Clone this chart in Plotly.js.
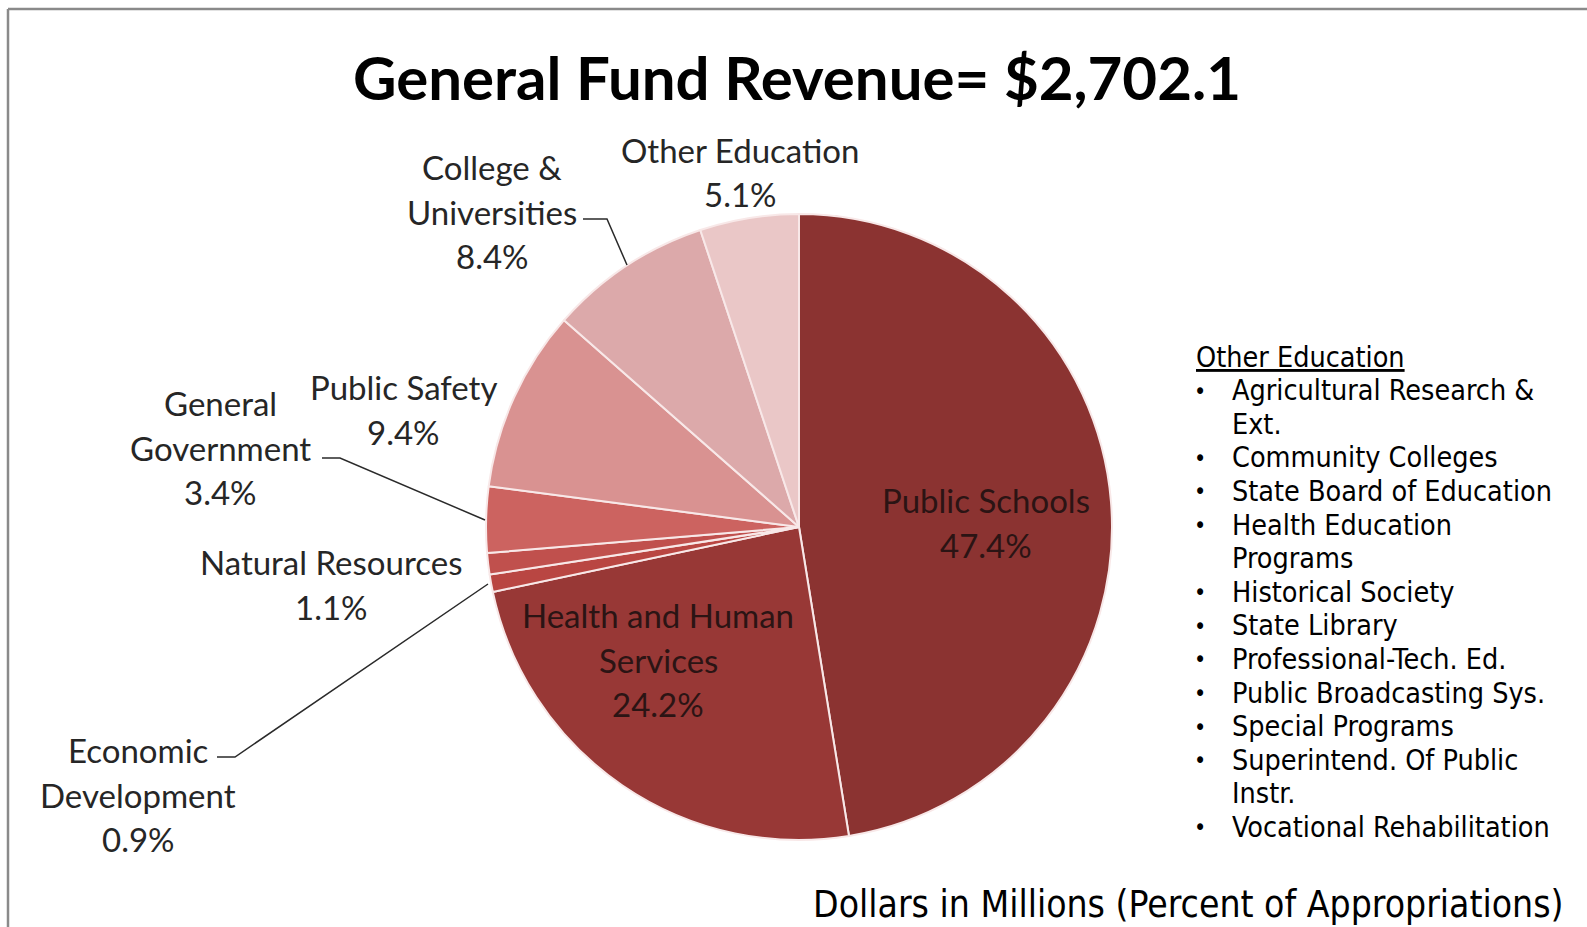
<!DOCTYPE html>
<html>
<head>
<meta charset="utf-8">
<script src="https://cdn.plot.ly/plotly-3.0.1.min.js"></script>
<style>html,body{margin:0;padding:0;background:#fff;}#chart{width:1587px;height:927px;}</style>
</head>
<body>
<div id="chart"></div>
<script>
// ---- data ----
const categories = ['Public Schools','Health and Human Services','Economic Development','Natural Resources','General Government','Public Safety','College & Universities','Other Education'];
const values = [47.4, 24.2, 0.9, 1.1, 3.4, 9.4, 8.4, 5.1];
const labelLines = [
  ['Public Schools'],
  ['Health and Human','Services'],
  ['Economic','Development'],
  ['Natural Resources'],
  ['General','Government'],
  ['Public Safety'],
  ['College &','Universities'],
  ['Other Education']
];
const listHeader = 'Other Education';
const listItems = [
  ['Agricultural Research &','Ext.'],
  ['Community Colleges'],
  ['State Board of Education'],
  ['Health Education','Programs'],
  ['Historical Society'],
  ['State Library'],
  ['Professional-Tech. Ed.'],
  ['Public Broadcasting Sys.'],
  ['Special Programs'],
  ['Superintend. Of Public','Instr.'],
  ['Vocational Rehabilitation']
];
const titleText = 'General Fund Revenue= $2,702.1';
const captionText = 'Dollars in Millions (Percent of Appropriations)';

// ---- styles / layout ----
const colors = ['#8B3331','#983836','#B94642','#C0504D','#CC6360','#D99291','#DCA9AA','#EAC7C7'];
const W = 1587, H = 927;
const px = x => x / W;
const py = y => 1 - y / H;
const cx = 799, cy = 527, R = 313;

// label block anchor (pixel centers of first line), line gap
const labelPos = [
  {x:986, y:500, c:'#2b1414'},
  {x:658, y:615, c:'#2b1414'},
  {x:138, y:750, c:'#262626'},
  {x:331, y:562, c:'#262626'},
  {x:220, y:403, c:'#262626'},
  {x:403, y:387, c:'#262626'},
  {x:492, y:167, c:'#262626'},
  {x:740, y:150, c:'#262626'}
];
const lineGap = 44.5;
const labelFont = 'Lato, "Open Sans", sans-serif';
const listFont = '"DejaVu Sans Condensed", "DejaVu Sans", sans-serif';

const annotations = [];
categories.forEach((cat, i) => {
  const lines = labelLines[i].concat([values[i].toFixed(1) + '%']);
  lines.forEach((t, j) => {
    annotations.push({
      xref:'paper', yref:'paper', x:px(labelPos[i].x), y:py(labelPos[i].y + j*lineGap),
      xanchor:'center', yanchor:'middle', showarrow:false, text:t,
      font:{family:labelFont, size:33, color:labelPos[i].c}
    });
  });
});

// list on the right
const listX0 = 1194, bulletX = 1200, textX = 1230, listY0 = 357, listGap = 33.6;
annotations.push({
  xref:'paper', yref:'paper', x:px(listX0), y:py(listY0), xanchor:'left', yanchor:'middle',
  showarrow:false, text:'<u>' + listHeader + '</u>', font:{family:listFont, size:28.5, color:'#000'}
});
let row = 1;
listItems.forEach(item => {
  annotations.push({
    xref:'paper', yref:'paper', x:px(bulletX), y:py(listY0 + row*listGap), xanchor:'center', yanchor:'middle',
    showarrow:false, text:'•', font:{family:listFont, size:23, color:'#000'}
  });
  item.forEach(t => {
    annotations.push({
      xref:'paper', yref:'paper', x:px(textX), y:py(listY0 + row*listGap), xanchor:'left', yanchor:'middle',
      showarrow:false, text:t, font:{family:listFont, size:28.5, color:'#000'}
    });
    row++;
  });
});

// caption
annotations.push({
  xref:'paper', yref:'paper', x:px(1566), y:py(904), xanchor:'right', yanchor:'middle',
  showarrow:false, text:captionText, font:{family:listFont, size:37, color:'#000'}
});

// leader lines (pixel paths)
const leaders = [
  [[583,219],[607,219],[627,265]],
  [[322,458],[340,458],[485,520]],
  [[217,757],[235,757],[488,584]]
];
const shapes = [];
leaders.forEach(pts => {
  const d = pts.map((p, k) => (k ? 'L' : 'M') + px(p[0]) + ',' + py(p[1])).join(' ');
  shapes.push({type:'path', xref:'paper', yref:'paper', path:d, line:{color:'#2a2a2a', width:1.5}});
});
// outer frame
shapes.push({type:'line', xref:'paper', yref:'paper', x0:px(8), y0:py(9), x1:px(1600), y1:py(9), line:{color:'#8a8a8a', width:2.5}});
shapes.push({type:'line', xref:'paper', yref:'paper', x0:px(8), y0:py(9), x1:px(8), y1:py(940), line:{color:'#8a8a8a', width:2.5}});

const trace = {
  type:'pie',
  labels:categories,
  values:values,
  sort:false,
  direction:'clockwise',
  rotation:0,
  textinfo:'none',
  hoverinfo:'label+percent',
  marker:{colors:colors, line:{color:'#F8E8E8', width:2}},
  domain:{x:[px(cx - R), px(cx + R)], y:[py(cy + R), py(cy - R)]},
  showlegend:false
};

const layout = {
  width:W, height:H,
  margin:{l:0, r:0, t:0, b:0},
  paper_bgcolor:'#ffffff',
  plot_bgcolor:'#ffffff',
  title:{text:'<b>' + titleText + '</b>', x:px(797), xanchor:'center', xref:'paper', y:py(79), yanchor:'middle', yref:'container',
         font:{family:'Lato, "Open Sans", sans-serif', size:60, color:'#000'}},
  annotations:annotations,
  shapes:shapes,
  showlegend:false
};

Plotly.newPlot('chart', [trace], layout, {displayModeBar:false, staticPlot:true});
</script>
</body>
</html>
